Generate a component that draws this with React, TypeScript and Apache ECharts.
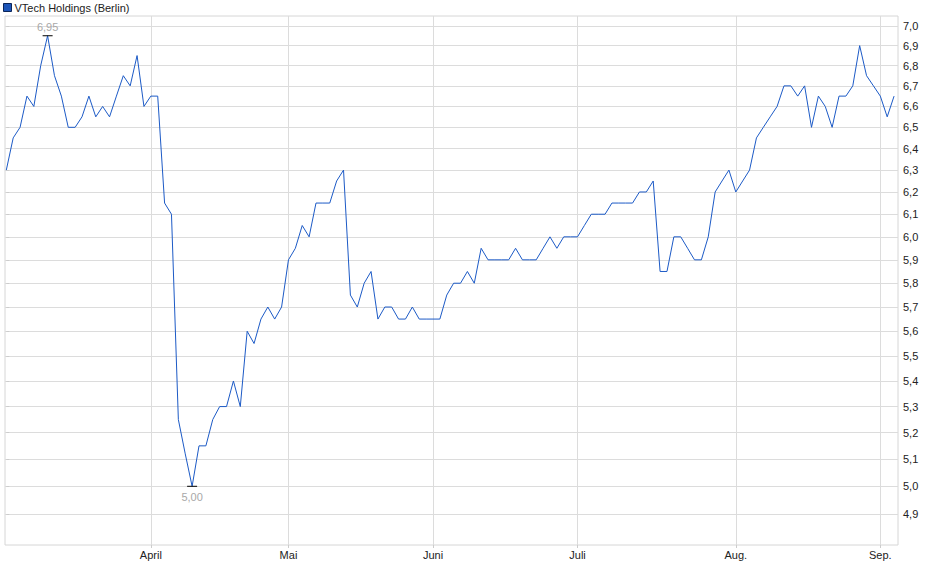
import React, { useEffect, useRef } from 'react';
import * as echarts from 'echarts';

const seriesName = 'VTech Holdings (Berlin)';

// Daily closing prices (EUR), one entry per trading day, grouped by month
const marchValues = [6.3, 6.45, 6.5, 6.65, 6.6, 6.8, 6.95, 6.75, 6.65, 6.5, 6.5, 6.55, 6.65, 6.55, 6.6, 6.55, 6.65, 6.75, 6.7, 6.85, 6.6];
const aprilValues = [6.65, 6.65, 6.15, 6.1, 5.25, 5.12, 5.0, 5.15, 5.15, 5.25, 5.3, 5.3, 5.4, 5.3, 5.6, 5.55, 5.65, 5.7, 5.65, 5.7];
const mayValues = [5.9, 5.95, 6.05, 6.0, 6.15, 6.15, 6.15, 6.25, 6.3, 5.75, 5.7, 5.8, 5.85, 5.65, 5.7, 5.7, 5.65, 5.65, 5.7, 5.65, 5.65];
const juneValues = [5.65, 5.65, 5.75, 5.8, 5.8, 5.85, 5.8, 5.95, 5.9, 5.9, 5.9, 5.9, 5.95, 5.9, 5.9, 5.9, 5.95, 6.0, 5.95, 6.0, 6.0];
const julyValues = [6.0, 6.05, 6.1, 6.1, 6.1, 6.15, 6.15, 6.15, 6.15, 6.2, 6.2, 6.25, 5.85, 5.85, 6.0, 6.0, 5.95, 5.9, 5.9, 6.0, 6.2, 6.25, 6.3];
const augustValues = [6.2, 6.25, 6.3, 6.45, 6.5, 6.55, 6.6, 6.7, 6.7, 6.65, 6.7, 6.5, 6.65, 6.6, 6.5, 6.65, 6.65, 6.7, 6.9, 6.75, 6.7];
const septemberValues = [6.65, 6.55, 6.65];

const monthLabels = ['', 'April', 'Mai', 'Juni', 'Juli', 'Aug.', 'Sep.'];
const yTickValues = [4.9, 5.0, 5.1, 5.2, 5.3, 5.4, 5.5, 5.6, 5.7, 5.8, 5.9, 6.0, 6.1, 6.2, 6.3, 6.4, 6.5, 6.6, 6.7, 6.8, 6.9, 7.0];
const yRange = [4.79, 7.051];

const FONT = 'Liberation Sans, Arial, sans-serif';

export default function App() {
  const ref = useRef<HTMLDivElement>(null);

  useEffect(() => {
    document.body.style.margin = '0';
    const chart = echarts.init(ref.current!, null, { renderer: 'svg' });

    const monthly = [marchValues, aprilValues, mayValues, juneValues, julyValues, augustValues, septemberValues];
    const values = monthly.flat();
    const labelAt = new Map<number, string>();
    let acc = 0;
    monthly.forEach((m, k) => {
      if (monthLabels[k]) labelAt.set(acc, monthLabels[k]);
      acc += m.length;
    });
    const monthTicks = Array.from(labelAt.keys());
    const data = values.map((v, i) => [i, Math.log(v)]);

    let maxIdx = 0;
    let minIdx = 0;
    values.forEach((v, i) => {
      if (v > values[maxIdx]) maxIdx = i;
      if (v < values[minIdx]) minIdx = i;
    });
    const fmt2 = (v: number) => v.toFixed(2).replace('.', ',');
    const yLog = yTickValues.map((v) => Math.log(v));

    chart.setOption({
      animation: false,
      textStyle: { fontFamily: FONT },
      legend: {
        show: true,
        left: 3,
        top: 2,
        padding: 0,
        icon: 'rect',
        itemWidth: 8,
        itemHeight: 8,
        itemStyle: { color: '#1d55b8', borderColor: '#0b2559', borderWidth: 1 },
        textStyle: { fontFamily: FONT, fontSize: 11, color: '#222', padding: [0, 0, 0, -2] },
        data: [seriesName],
      },
      grid: {
        left: 5,
        top: 16,
        width: 893,
        height: 529,
        show: true,
        borderColor: '#d6d6d6',
        borderWidth: 1,
        outerBoundsMode: 'none',
      },
      xAxis: {
        type: 'value',
        min: -0.19,
        max: 129.57,
        axisLine: { show: false },
        axisTick: { show: true, length: 3, lineStyle: { color: '#cccccc' }, customValues: monthTicks },
        axisLabel: {
          customValues: monthTicks,
          formatter: (v: number) => labelAt.get(Math.round(v)) ?? '',
          fontFamily: FONT,
          fontSize: 11,
          color: '#222',
          margin: 4,
        },
        splitLine: { show: true, lineStyle: { color: '#dcdcdc', width: 1 } },
      },
      yAxis: {
        type: 'value',
        position: 'right',
        min: Math.log(yRange[0]),
        max: Math.log(yRange[1]),
        axisLine: { show: false },
        axisTick: { show: true, length: 3, lineStyle: { color: '#cccccc' }, customValues: yLog },
        axisLabel: {
          customValues: yLog,
          formatter: (v: number) => Math.exp(v).toFixed(1).replace('.', ','),
          fontFamily: FONT,
          fontSize: 11,
          color: '#222',
          margin: 5,
        },
        splitLine: { show: true, lineStyle: { color: '#dcdcdc', width: 1 } },
      },
      series: [
        {
          name: seriesName,
          type: 'line',
          data,
          symbol: 'none',
          lineStyle: { color: '#1c5ac6', width: 1 },
          itemStyle: { color: '#1d55b8' },
          markPoint: {
            symbol: 'rect',
            symbolSize: [10, 1],
            itemStyle: { color: '#000' },
            label: { fontFamily: FONT, fontSize: 11, color: '#a8a8a8' },
            data: [
              {
                coord: [maxIdx, Math.log(values[maxIdx])],
                label: { position: 'top', distance: 3, formatter: fmt2(values[maxIdx]) },
              },
              {
                coord: [minIdx, Math.log(values[minIdx])],
                label: { position: 'bottom', distance: 5, formatter: fmt2(values[minIdx]) },
              },
            ],
          },
        },
      ],
    });

    return () => chart.dispose();
  }, []);

  return <div ref={ref} style={{ width: 940, height: 579 }} />;
}
